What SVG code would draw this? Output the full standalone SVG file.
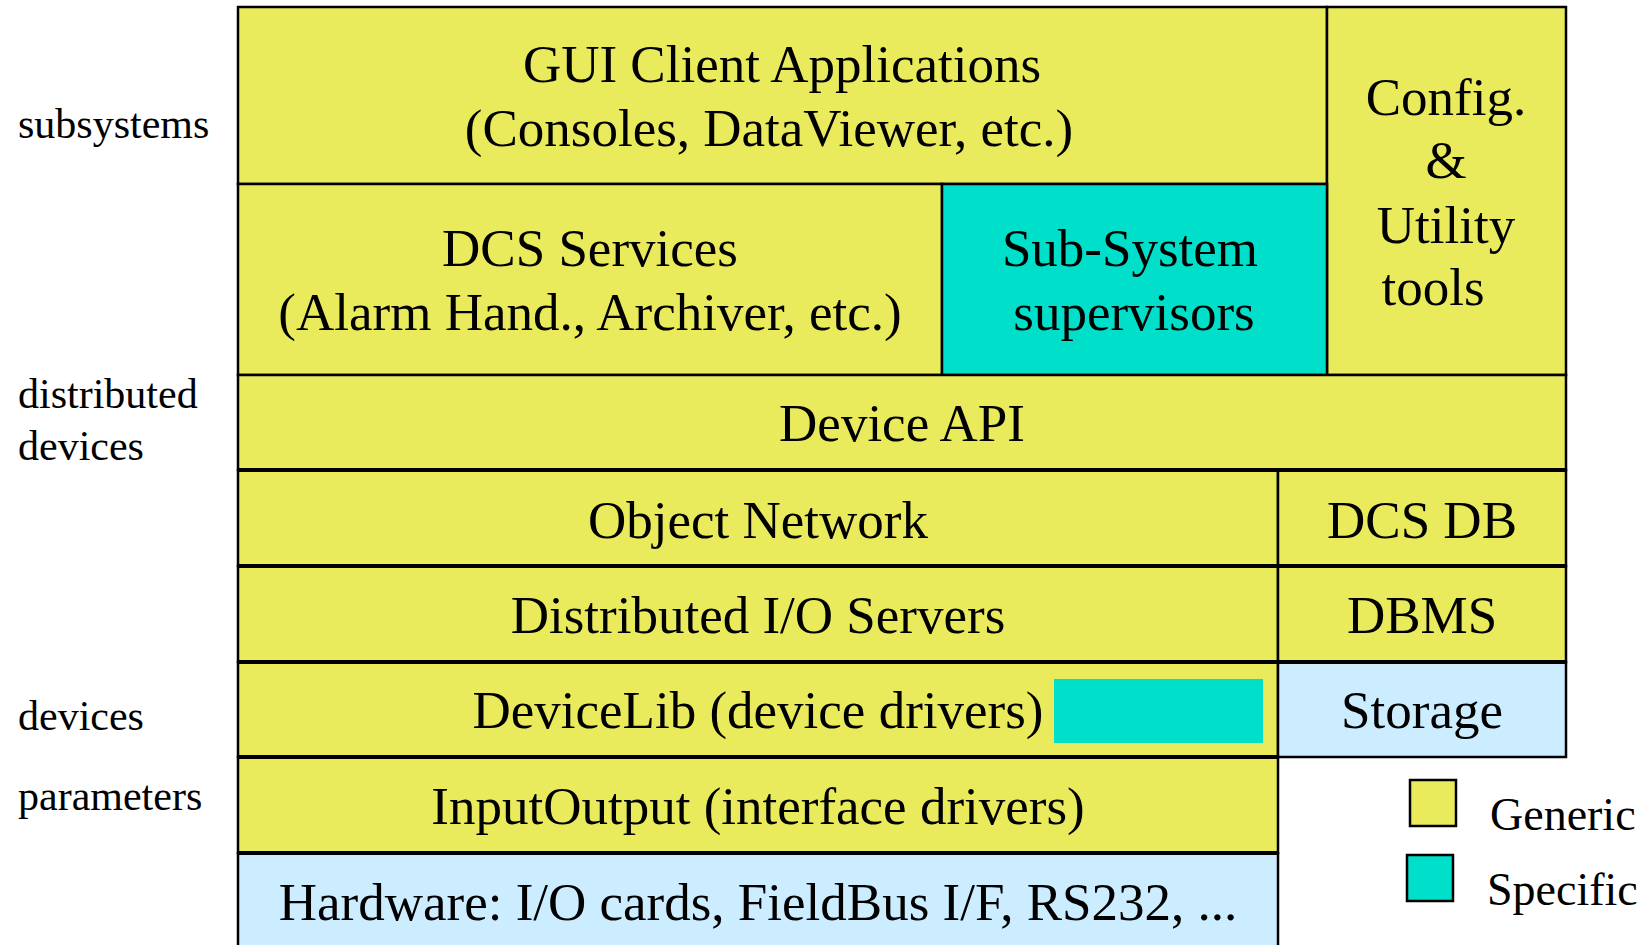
<svg xmlns="http://www.w3.org/2000/svg" width="1647" height="945" viewBox="0 0 1647 945">
<style>
.y{fill:#E9EB5D;stroke:#000;stroke-width:2.5}
.t{fill:#00DFC9;stroke:#000;stroke-width:2.5}
.b{fill:#CCECFF;stroke:#000;stroke-width:2.5}
.h{stroke:#000;stroke-width:4}
text{font-family:"Liberation Serif","Times New Roman",serif;fill:#000}
.m{font-size:53px;text-anchor:middle}
.l{font-size:42px}
.g{font-size:46px}
</style>
<rect width="1647" height="945" fill="#fff"/>
<g id="gui"><rect class="y" x="238" y="7" width="1089" height="177"/>
<text class="m" x="782" y="82">GUI Client Applications</text>
<text class="m" x="769" y="146">(Consoles, DataViewer, etc.)</text></g>
<g id="config"><rect class="y" x="1327" y="7" width="239" height="368"/>
<text class="m" x="1446" y="115">Config.</text>
<text class="m" x="1446" y="178">&amp;</text>
<text class="m" x="1446" y="243">Utility</text>
<text class="m" x="1433" y="305">tools</text></g>
<g id="dcs-services"><rect class="y" x="238" y="184" width="704" height="191"/>
<text class="m" x="590" y="266">DCS Services</text>
<text class="m" x="590" y="330">(Alarm Hand., Archiver, etc.)</text></g>
<g id="subsystem"><rect class="t" x="942" y="184" width="385" height="191"/>
<text class="m" x="1130" y="266">Sub-System</text>
<text class="m" x="1134" y="330">supervisors</text></g>
<g id="device-api"><rect class="y" x="238" y="375" width="1328" height="95"/>
<text class="m" x="902" y="441">Device API</text></g>
<g id="object-network"><rect class="y" x="238" y="470" width="1040" height="96"/>
<text class="m" x="758" y="538">Object Network</text></g>
<g id="dcs-db"><rect class="y" x="1278" y="470" width="288" height="96"/>
<text class="m" x="1422" y="538">DCS DB</text></g>
<g id="dist-io"><rect class="y" x="238" y="566" width="1040" height="96"/>
<text class="m" x="758" y="633">Distributed I/O Servers</text></g>
<g id="dbms"><rect class="y" x="1278" y="566" width="288" height="96"/>
<text class="m" x="1422" y="633">DBMS</text></g>
<g id="devicelib"><rect class="y" x="238" y="662" width="1040" height="95"/>
<rect fill="#00DFC9" x="1054" y="679" width="209" height="64"/>
<text class="m" x="758" y="728">DeviceLib (device drivers)</text></g>
<g id="storage"><rect class="b" x="1278" y="662" width="288" height="95"/>
<text class="m" x="1422" y="728">Storage</text></g>
<g id="inputoutput"><rect class="y" x="238" y="757" width="1040" height="96"/>
<text class="m" x="758" y="824">InputOutput (interface drivers)</text></g>
<g id="hardware"><rect class="b" x="238" y="853" width="1040" height="100"/>
<text class="m" x="758" y="920">Hardware: I/O cards, FieldBus I/F, RS232, ...</text></g>
<g id="connectors">
<line class="h" x1="238" y1="470" x2="1566" y2="470"/>
<line class="h" x1="238" y1="566" x2="1566" y2="566"/>
<line class="h" x1="238" y1="662" x2="1566" y2="662"/>
<line class="h" x1="238" y1="757" x2="1278" y2="757"/>
<line class="h" x1="238" y1="853" x2="1278" y2="853"/>
</g>
<g id="labels">
<text class="l" x="18" y="138">subsystems</text>
<text class="l" x="18" y="408">distributed</text>
<text class="l" x="18" y="460">devices</text>
<text class="l" x="18" y="730">devices</text>
<text class="l" x="18" y="810">parameters</text>
</g>
<g id="legend">
<rect class="y" x="1410" y="780" width="46" height="46"/>
<text class="g" x="1490" y="830">Generic</text>
<rect class="t" x="1407" y="855" width="46" height="46"/>
<text class="g" x="1487" y="905">Specific</text>
</g>
</svg>
